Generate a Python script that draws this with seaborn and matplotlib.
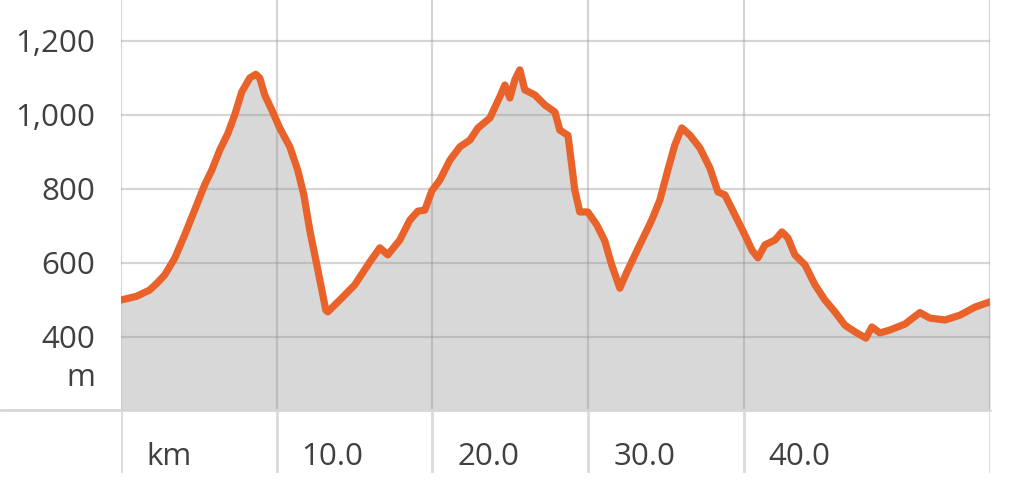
import matplotlib
matplotlib.use("Agg")
import matplotlib.pyplot as plt
import seaborn as sns
from matplotlib.lines import Line2D

# Höhenprofil: Distanz (km) und Höhe (m)
km = [0.0, 1.0, 1.84, 2.3, 2.81, 3.45, 4.09, 4.73, 5.37, 5.83, 6.34, 6.86,
      7.30, 7.75, 8.27, 8.65, 8.91, 9.23, 9.68, 10.19, 10.84, 11.35, 11.74,
      12.12, 12.64, 13.15, 13.28, 14.05, 15.01, 15.98, 16.62, 17.13, 17.90,
      18.55, 19.06, 19.51, 19.96, 20.47, 21.12, 21.76, 22.40, 22.92, 23.69,
      24.33, 24.65, 24.97, 25.29, 25.61, 25.93, 26.58, 27.22, 27.86, 28.18,
      28.70, 28.94, 29.14, 29.46, 29.97, 30.55, 31.06, 31.51, 32.03, 32.54,
      33.31, 34.08, 34.60, 35.11, 35.56, 36.01, 36.52, 37.17, 37.81, 38.33,
      38.78, 39.42, 40.06, 40.51, 40.90, 41.35, 41.99, 42.44, 42.82, 43.27,
      43.92, 44.56, 45.20, 45.84, 46.48, 47.13, 47.58, 47.83, 48.22, 48.73,
      49.38, 50.34, 51.30, 51.94, 52.91, 53.87, 54.84, 55.80]
elev = [500, 510, 527, 545, 568, 613, 676, 743, 811, 851, 905, 950,
        1000, 1062, 1100, 1110, 1100, 1054, 1014, 965, 914, 851, 784,
        689, 581, 473, 468, 500, 541, 603, 641, 622, 662,
        716, 740, 743, 795, 824, 878, 914, 932, 965, 992,
        1050, 1081, 1046, 1095, 1122, 1068, 1054, 1027, 1008, 959,
        945, 865, 797, 738, 738, 703, 660, 595, 532, 581,
        649, 716, 770, 851, 919, 965, 946, 911, 857, 792,
        784, 730, 676, 635, 614, 649, 662, 684, 668, 622,
        595, 541, 500, 468, 432, 414, 403, 397, 427, 411,
        419, 435, 466, 451, 446, 459, 481, 495]

y_ticks = [400, 600, 800, 1000, 1200]
y_labels = ["400", "600", "800", "1,000", "1,200"]
x_ticks = [0, 10, 20, 30, 40]
x_labels = ["km", "10.0", "20.0", "30.0", "40.0"]
x_max = 55.8

sns.set_style("white")
plt.rcParams["font.family"] = ["Open Sans", "DejaVu Sans"]

W, H = 1024, 498
fig = plt.figure(figsize=(W / 100, H / 100), dpi=100)
text_col = "#404040"
fs = 22.5

# obere Fläche mit Profil
ax = fig.add_axes([121 / W, 88 / H, 869 / W, 410 / H])
ax.fill_between(km, elev, 0, color="#d8d8d8", lw=0, zorder=1)
sns.lineplot(x=km, y=elev, ax=ax, sort=False, color="#e8622a", lw=5.2,
             zorder=3, solid_joinstyle="round")
ax.set_xlim(0, x_max)
ax.set_ylim(202.7, 1310.8)
ax.set_xticks(x_ticks + [x_max])
ax.set_xticklabels([])
ax.set_yticks(y_ticks)
ax.set_yticklabels(y_labels, color=text_col, fontsize=fs)
ax.tick_params(length=0, axis="y", pad=18.5)
ax.tick_params(length=0, axis="x")
ax.set_axisbelow(False)
ax.grid(True, color="#8c8c8c", alpha=0.35, lw=1.6)
sns.despine(ax=ax, left=True, bottom=True)
ax.set_xlabel("")
ax.set_ylabel("")
fig.text(95 / W, 1 - 378 / H, "m", ha="right", va="center",
         fontsize=fs, color=text_col)

# untere Leiste mit km-Beschriftung
ax2 = fig.add_axes([121 / W, 25 / H, 869 / W, 63 / H])
ax2.set_xlim(0, x_max)
ax2.set_ylim(0, 1)
ax2.set_xticks(x_ticks + [x_max])
ax2.set_xticklabels([])
ax2.set_yticks([])
ax2.tick_params(length=0)
ax2.grid(True, axis="x", color="#dadada", lw=2)
sns.despine(ax=ax2, left=True, bottom=True, top=True, right=True)
for x, lab in zip(x_ticks, x_labels):
    ax2.text(x + 1.6, 0.25, lab, ha="left", va="center", fontsize=fs,
             color=text_col)

fig.add_artist(Line2D([0, 990 / W], [88 / H, 88 / H], color="#d6d6d6", lw=2))

fig.savefig("out.png", dpi=100)
